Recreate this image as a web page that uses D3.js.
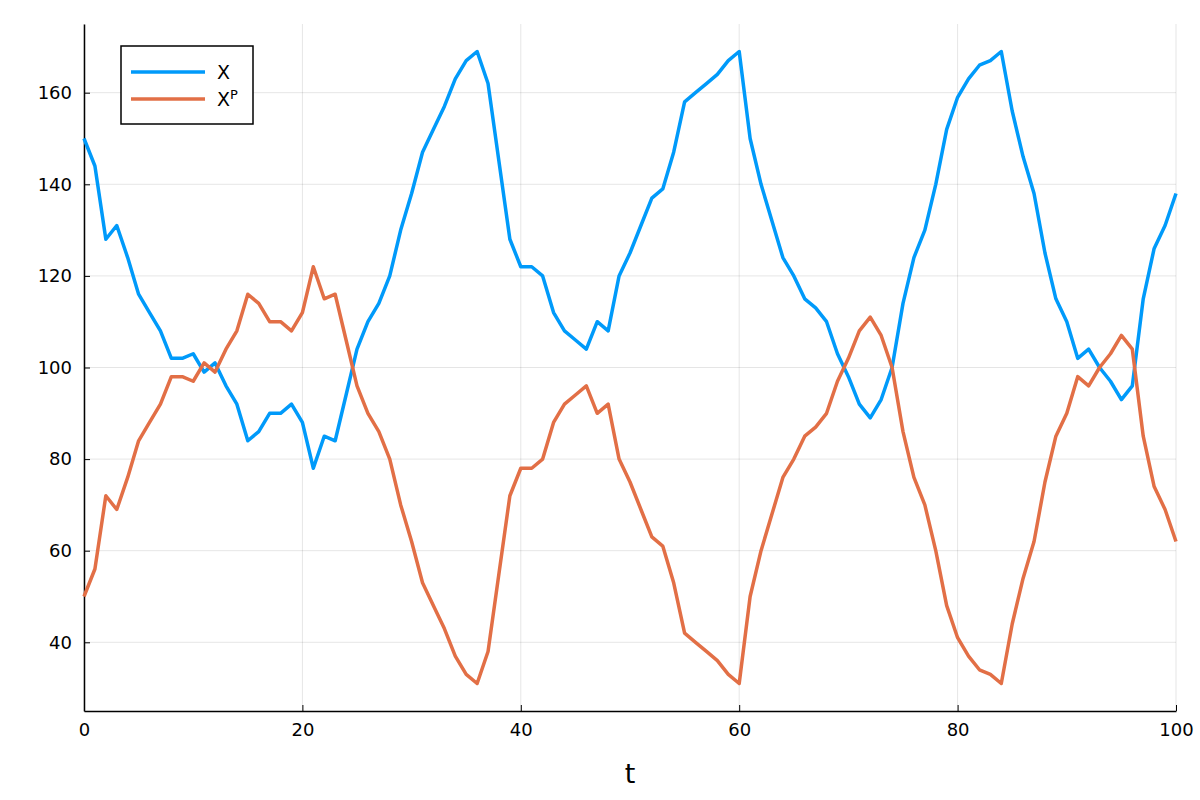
<!DOCTYPE html>
<html>
<head>
<meta charset="utf-8">
<script src="https://cdn.jsdelivr.net/npm/d3@7"></script>
<style>
  body { margin: 0; background: #fff; }
  text { font-family: "DejaVu Sans", sans-serif; }
</style>
</head>
<body>
<svg id="chart" width="1200" height="800"></svg>
<script>
// values read at t = 0, 1, 2, ... 100
const tValues = d3.range(0, 101);
const xValues = [150, 144, 128, 131, 124, 116, 112, 108, 102, 102, 103, 99, 101, 96, 92, 84, 86, 90, 90, 92,
  88, 78, 85, 84, 94, 104, 110, 114, 120, 130, 138, 147, 152, 157, 163, 167, 169, 162, 145, 128,
  122, 122, 120, 112, 108, 106, 104, 110, 108, 120, 125, 131, 137, 139, 147, 158, 160, 162, 164, 167,
  169, 150, 140, 132, 124, 120, 115, 113, 110, 103, 98, 92, 89, 93, 100, 114, 124, 130, 140, 152,
  159, 163, 166, 167, 169, 156, 146, 138, 125, 115, 110, 102, 104, 100, 97, 93, 96, 115, 126, 131, 138];
const xpValues = [50, 56, 72, 69, 76, 84, 88, 92, 98, 98, 97, 101, 99, 104, 108, 116, 114, 110, 110, 108,
  112, 122, 115, 116, 106, 96, 90, 86, 80, 70, 62, 53, 48, 43, 37, 33, 31, 38, 55, 72,
  78, 78, 80, 88, 92, 94, 96, 90, 92, 80, 75, 69, 63, 61, 53, 42, 40, 38, 36, 33,
  31, 50, 60, 68, 76, 80, 85, 87, 90, 97, 102, 108, 111, 107, 100, 86, 76, 70, 60, 48,
  41, 37, 34, 33, 31, 44, 54, 62, 75, 85, 90, 98, 96, 100, 103, 107, 104, 85, 74, 69, 62];
const seriesNames = ['X', 'X'];
const xTicks = [0, 20, 40, 60, 80, 100];
const yTicks = [40, 60, 80, 100, 120, 140, 160];
const colors = ['#009AFA', '#E26F46'];

const svg = d3.select('#chart');
const xScale = d3.scaleLinear().domain([0, 100]).range([84, 1176]);
const yScale = d3.scaleLinear().domain([25, 175]).range([711, 24]);

// grid
svg.append('g').selectAll('line').data(xTicks).enter().append('line')
  .attr('x1', d => xScale(d)).attr('x2', d => xScale(d))
  .attr('y1', 24).attr('y2', 711)
  .attr('stroke', '#000').attr('stroke-opacity', 0.1);
svg.append('g').selectAll('line').data(yTicks).enter().append('line')
  .attr('x1', 84).attr('x2', 1176)
  .attr('y1', d => yScale(d)).attr('y2', d => yScale(d))
  .attr('stroke', '#000').attr('stroke-opacity', 0.1);

// axes
const xAxis = svg.append('g').attr('transform', 'translate(0,711)')
  .call(d3.axisBottom(xScale).tickValues(xTicks).tickSizeInner(-6).tickSizeOuter(0).tickPadding(12));
const yAxis = svg.append('g').attr('transform', 'translate(84,0)')
  .call(d3.axisLeft(yScale).tickValues(yTicks).tickSizeInner(-6).tickSizeOuter(0).tickPadding(12));
[xAxis, yAxis].forEach(a => {
  a.selectAll('text').style('font-size', '18px').attr('fill', '#000');
  a.select('.domain').attr('stroke', '#000').attr('stroke-width', 1.5);
});

svg.append('text').attr('x', 630).attr('y', 783).attr('text-anchor', 'middle')
  .style('font-size', '27px').text('t');

// lines
const line = d3.line().x((d, i) => xScale(tValues[i])).y(d => yScale(d)).curve(d3.curveLinear);
[xValues, xpValues].forEach((vals, i) => {
  svg.append('path').datum(vals)
    .attr('fill', 'none').attr('stroke', colors[i]).attr('stroke-width', 3.5)
    .attr('stroke-linejoin', 'round')
    .attr('d', line);
});

// legend
const lg = svg.append('g');
lg.append('rect').attr('x', 121).attr('y', 46).attr('width', 132).attr('height', 78)
  .attr('fill', '#fff').attr('stroke', '#000').attr('stroke-width', 1.5);
seriesNames.forEach((name, i) => {
  const y = 72 + i * 27;
  lg.append('line').attr('x1', 131).attr('x2', 205).attr('y1', y).attr('y2', y)
    .attr('stroke', colors[i]).attr('stroke-width', 3.5);
  const t = lg.append('text').attr('x', 217).attr('y', y + 7).style('font-size', '19px').text(name);
  if (i === 1) t.append('tspan').attr('dy', -7).style('font-size', '13px').text('P');
});
</script>
</body>
</html>
